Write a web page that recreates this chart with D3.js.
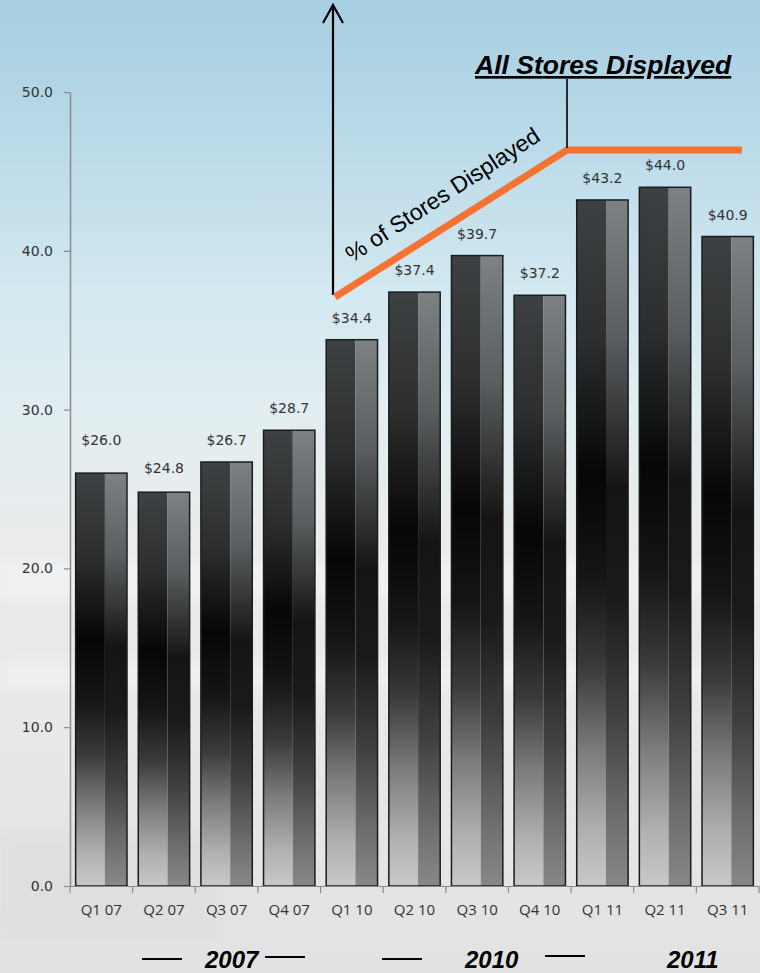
<!DOCTYPE html>
<html><head><meta charset="utf-8">
<script src="https://cdn.jsdelivr.net/npm/d3@7"></script>
<style>html,body{margin:0;padding:0;overflow:hidden}svg{display:block}</style>
</head><body>
<script>
const categories = ["Q1 07","Q2 07","Q3 07","Q4 07","Q1 10","Q2 10","Q3 10","Q4 10","Q1 11","Q2 11","Q3 11"];
const revenue = [26.0,24.8,26.7,28.7,34.4,37.4,39.7,37.2,43.2,44.0,40.9];
const valueLabels = ["$26.0","$24.8","$26.7","$28.7","$34.4","$37.4","$39.7","$37.2","$43.2","$44.0","$40.9"];
const yTicks = [0,10,20,30,40,50];
const yearLabels = ["2007","2010","2011"];
// label lift above bar top (px), as placed in the original slide
const labelLift = [28,19,17,17,17,17,17,17,17,17,17];

const W = 760, H = 973;
const svg = d3.select("body").append("svg").attr("width", W).attr("height", H);
const defs = svg.append("defs");

// background
const bg = defs.append("linearGradient").attr("id","bg").attr("x1",0).attr("y1",0).attr("x2",0).attr("y2",1);
[[0,"#a8cfe2"],[0.12,"#b6d8e7"],[0.3,"#d3e8f0"],[0.42,"#e2eef1"],[0.55,"#eaeced"],[0.75,"#e8e8e8"],[1,"#e2e2e2"]]
  .forEach(([o,c])=>bg.append("stop").attr("offset",o).attr("stop-color",c));
svg.append("rect").attr("width",W).attr("height",H).attr("fill","url(#bg)");
defs.append("filter").attr("id","blur").append("feGaussianBlur").attr("stdDeviation",6);
const shapes = svg.append("g").attr("filter","url(#blur)").attr("opacity",0.5);
shapes.append("rect").attr("x",0).attr("y",560).attr("width",760).attr("height",40).attr("fill","#f6f6f6");
shapes.append("rect").attr("x",0).attr("y",660).attr("width",760).attr("height",30).attr("fill","#f4f4f4");
shapes.append("rect").attr("x",0).attr("y",830).attr("width",220).attr("height",110).attr("fill","#dcdcdc");

// bar gradients
const gl = defs.append("linearGradient").attr("id","gl").attr("x1",0).attr("y1",0).attr("x2",0).attr("y2",1);
[[0,"#3e4143"],[0.2,"#2c2e2f"],[0.4,"#060606"],[0.55,"#151515"],[0.68,"#3a3a3a"],[0.8,"#7a7a7a"],[0.92,"#b0b0b0"],[1,"#c8c8c8"]]
  .forEach(([o,c])=>gl.append("stop").attr("offset",o).attr("stop-color",c));
const gr = defs.append("linearGradient").attr("id","gr").attr("x1",0).attr("y1",0).attr("x2",0).attr("y2",1);
[[0,"#7c8184"],[0.2,"#5a5e60"],[0.42,"#141414"],[0.58,"#1a1a1a"],[0.75,"#404040"],[0.9,"#6e6e6e"],[1,"#888888"]]
  .forEach(([o,c])=>gr.append("stop").attr("offset",o).attr("stop-color",c));

const x = d3.scaleBand().domain(categories).range([70, 759]).paddingInner(0.18).paddingOuter(0.09);
const y = d3.scaleLinear().domain([0,50]).range([886, 92]);

// y axis
const yAxis = svg.append("g").attr("transform","translate(70,0)")
  .call(d3.axisLeft(y).tickValues(yTicks).tickFormat(d3.format(".1f")).tickSize(6).tickSizeOuter(0));
yAxis.select(".domain").attr("stroke","#8a8a8a").attr("stroke-width",1.5);
yAxis.selectAll(".tick line").attr("stroke","#8a8a8a").attr("stroke-width",1.2);
yAxis.selectAll(".tick text").attr("font-family","DejaVu Sans, Verdana, sans-serif").attr("font-size",14).attr("fill","#333").attr("x",-17);

// bars
const bars = svg.append("g").selectAll("g").data(categories).join("g");
const leftFrac = 0.57;
bars.append("rect")
  .attr("x", d=>x(d)).attr("y", (d,i)=>y(revenue[i]))
  .attr("width", x.bandwidth()*leftFrac).attr("height", (d,i)=>y(0)-y(revenue[i]))
  .attr("fill","url(#gl)");
bars.append("rect")
  .attr("x", d=>x(d)+x.bandwidth()*leftFrac).attr("y", (d,i)=>y(revenue[i]))
  .attr("width", x.bandwidth()*(1-leftFrac)).attr("height", (d,i)=>y(0)-y(revenue[i]))
  .attr("fill","url(#gr)");
bars.append("rect")
  .attr("x", d=>x(d)).attr("y", (d,i)=>y(revenue[i]))
  .attr("width", x.bandwidth()).attr("height", (d,i)=>y(0)-y(revenue[i]))
  .attr("fill","none").attr("stroke","#1c1c1c").attr("stroke-width",1.5);

// x axis
const step = x.step();
const xg = svg.append("g");
xg.append("line").attr("x1",70).attr("x2",759).attr("y1",886.5).attr("y2",886.5).attr("stroke","#8a8a8a").attr("stroke-width",1.2);
xg.selectAll("line.t").data(d3.range(categories.length+1)).join("line").attr("class","t")
  .attr("x1",i=>70+i*step).attr("x2",i=>70+i*step).attr("y1",886).attr("y2",893)
  .attr("stroke","#8a8a8a").attr("stroke-width",1.2);
xg.selectAll("text").data(categories).join("text")
  .attr("x", d=>x(d)+x.bandwidth()/2).attr("y", 915)
  .attr("text-anchor","middle").attr("font-family","Open Sans, Liberation Sans, sans-serif").attr("font-size",15)
  .attr("fill","#333").text(d=>d);

// value labels
svg.append("g").selectAll("text").data(valueLabels).join("text")
  .attr("x", (d,i)=>x(categories[i])+x.bandwidth()/2)
  .attr("y", (d,i)=>y(revenue[i]) - labelLift[i])
  .attr("text-anchor","middle").attr("font-family","DejaVu Sans, Verdana, sans-serif").attr("font-size",14)
  .attr("fill","#333").text(d=>d);

// annotations: arrow
const ann = svg.append("g");
ann.append("line").attr("x1",333).attr("x2",333).attr("y1",295).attr("y2",6).attr("stroke","#000").attr("stroke-width",2.2);
ann.append("path").attr("d","M323,23 L333,5 L343,23").attr("fill","none").attr("stroke","#000").attr("stroke-width",2.2);
// orange line
ann.append("path").attr("d","M335,297 L567,150 L742,150").attr("fill","none").attr("stroke","#f47232").attr("stroke-width",7).attr("stroke-linejoin","miter");
// black vertical to All Stores label
ann.append("line").attr("x1",567).attr("x2",567).attr("y1",79).attr("y2",148).attr("stroke","#000").attr("stroke-width",1.6);
ann.append("text").attr("x",475).attr("y",74).attr("font-family","Liberation Sans, Arial, sans-serif")
  .attr("font-size",26.5).attr("font-weight","bold").attr("font-style","italic").attr("text-decoration","underline")
  .attr("fill","#000").text("All Stores Displayed");
ann.append("text").attr("transform","translate(352,263) rotate(-33)").attr("font-family","Liberation Sans, Arial, sans-serif")
  .attr("font-size",23).attr("fill","#000").text("% of Stores Displayed");

// year legend
const yl = svg.append("g");
const yearX = [205,465,667];
yl.selectAll("text").data(yearLabels).join("text")
  .attr("x",(d,i)=>yearX[i]).attr("y",968).attr("font-family","Liberation Sans, Arial, sans-serif")
  .attr("font-size",24).attr("font-weight","bold").attr("font-style","italic").attr("fill","#000").text(d=>d);
const dashes = [[142,182,959],[265,305,957],[382,422,959],[545,585,956]];
yl.selectAll("line").data(dashes).join("line")
  .attr("x1",d=>d[0]).attr("x2",d=>d[1]).attr("y1",d=>d[2]).attr("y2",d=>d[2]).attr("stroke","#000").attr("stroke-width",1.8);
</script>
</body></html>
